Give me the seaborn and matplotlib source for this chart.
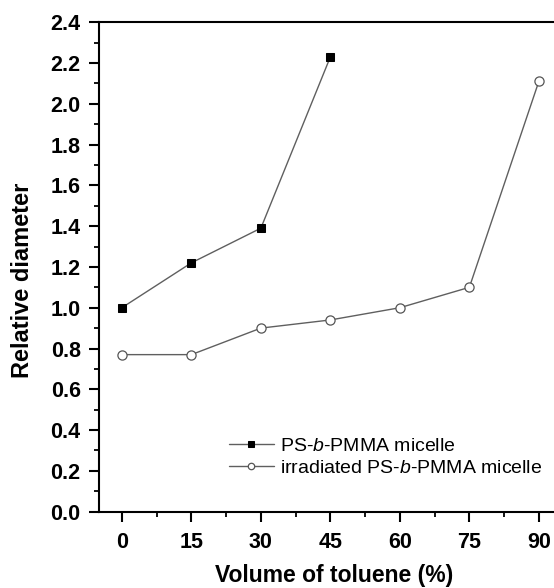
import numpy as np
import pandas as pd
import matplotlib
matplotlib.use('Agg')
import matplotlib.pyplot as plt
from matplotlib.ticker import MultipleLocator, FormatStrFormatter
import seaborn as sns

# data
toluene_micelle = [0, 15, 30, 45]
diam_micelle = [1.00, 1.22, 1.39, 2.23]

toluene_irr = [0, 15, 30, 45, 60, 75, 90]
diam_irr = [0.77, 0.77, 0.90, 0.94, 1.00, 1.10, 2.11]

label_micelle = 'PS-$\\it{b}$-PMMA micelle'
label_irr = 'irradiated PS-$\\it{b}$-PMMA micelle'

sns.set_style('ticks', {'axes.edgecolor': 'black', 'text.color': 'black',
                        'axes.labelcolor': 'black', 'xtick.color': 'black',
                        'ytick.color': 'black'})
plt.rcParams['font.family'] = ['Liberation Sans', 'DejaVu Sans']
plt.rcParams['mathtext.fontset'] = 'custom'
plt.rcParams['mathtext.it'] = 'Liberation Sans:italic'
plt.rcParams['mathtext.rm'] = 'Liberation Sans'

fig = plt.figure(figsize=(5.54, 5.88), dpi=100)
# right spine falls just outside the picture, like the cropped original
ax = fig.add_axes([0.1782, 0.1298, 0.8327, 0.8325])

df1 = pd.DataFrame({'x': toluene_micelle, 'y': diam_micelle})
df2 = pd.DataFrame({'x': toluene_irr, 'y': diam_irr})

sns.lineplot(data=df1, x='x', y='y', ax=ax, color='#5f5f5f', linewidth=1.0,
             marker='s', markersize=5.6, markerfacecolor='black',
             markeredgecolor='black', label=label_micelle)
sns.lineplot(data=df2, x='x', y='y', ax=ax, color='#5f5f5f', linewidth=1.0,
             marker='o', markersize=6.6, markerfacecolor='white',
             markeredgecolor='#555555', markeredgewidth=0.9, label=label_irr)

ax.set_xlim(-5.0, 94.57)
ax.set_ylim(0, 2.4)
ax.xaxis.set_major_locator(MultipleLocator(15))
ax.xaxis.set_minor_locator(MultipleLocator(7.5))
ax.yaxis.set_major_locator(MultipleLocator(0.2))
ax.yaxis.set_minor_locator(MultipleLocator(0.1))
ax.yaxis.set_major_formatter(FormatStrFormatter('%.1f'))

for s in ax.spines.values():
    s.set_linewidth(1.5)
    s.set_color('black')
    s.set_visible(True)

ax.tick_params(which='major', direction='out', length=7.5, width=1.5,
               labelsize=15.5, colors='black')
ax.tick_params(which='minor', direction='out', length=3.5, width=1.3,
               colors='black')
ax.tick_params(axis='x', which='major', pad=7)
ax.tick_params(axis='y', which='major', pad=5.5)
for lab in ax.get_xticklabels() + ax.get_yticklabels():
    lab.set_fontweight('bold')

ax.set_xlabel('Volume of toluene (%)', fontsize=16.5, fontweight='bold',
              color='black')
ax.set_ylabel('Relative diameter', fontsize=17, fontweight='bold',
              color='black')
ax.xaxis.set_label_coords(0.51, -0.106)
ax.yaxis.set_label_coords(-0.14, 0.473)

leg = ax.legend(loc='center left', bbox_to_anchor=(0.2825, 0.1117),
                frameon=False, fontsize=14, handlelength=2.3,
                handletextpad=0.3, labelspacing=0.25, borderaxespad=0,
                borderpad=0, markerscale=0.7)
for t in leg.get_texts():
    t.set_color('black')

fig.savefig('out.png', dpi=100)
